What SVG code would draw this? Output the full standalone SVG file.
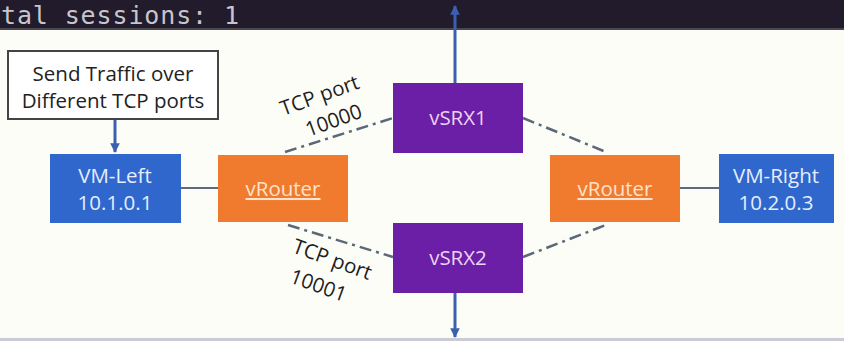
<svg xmlns="http://www.w3.org/2000/svg" width="844" height="341" viewBox="0 0 844 341">
<defs>
<marker id="ah" viewBox="0 0 10 10" refX="9" refY="5" markerWidth="3.2" markerHeight="3.2" orient="auto-start-reverse"><path d="M0,0 L10,5 L0,10 z" fill="#3d5fb0"/></marker>
<style>
.t{font-family:"Open Sans","Liberation Sans",sans-serif;font-size:20.5px;text-anchor:middle}
.blue{fill:#2f67cc}
.org{fill:#f07a2e}
.pur{fill:#6a1fa6}
.ln{stroke:#3d5fb0;stroke-width:3;fill:none}
.dd{stroke:#5a6878;stroke-width:2.5;fill:none;stroke-dasharray:12 5 3 5}
.sl{stroke:#5c6a7e;stroke-width:2;fill:none}
</style>
</defs>
<rect x="0" y="0" width="844" height="341" fill="#fdfdf7"/>
<rect x="0" y="0" width="844" height="29" fill="#221b2b"/>
<rect x="0" y="28" width="844" height="2" fill="#4a4650"/>
<rect x="0" y="338" width="844" height="3" fill="#c9ccd4"/>
<text x="1" y="24" font-family="DejaVu Sans Mono,Liberation Mono,monospace" font-size="25" textLength="238" fill="#c8c6cc">tal sessions: 1</text>
<g id="connectors">
<line class="ln" x1="455" y1="83" x2="455" y2="6" marker-end="url(#ah)"/>
<line class="ln" x1="455" y1="293" x2="455" y2="337" marker-end="url(#ah)"/>
<line class="ln" x1="115" y1="119" x2="115" y2="152" marker-end="url(#ah)"/>
<line class="sl" x1="181" y1="188" x2="218" y2="188"/>
<line class="sl" x1="680" y1="188" x2="719" y2="188"/>
<line class="dd" x1="285" y1="152" x2="393" y2="118"/>
<line class="dd" x1="523" y1="118" x2="606" y2="152"/>
<line class="dd" x1="288" y1="225" x2="393" y2="257"/>
<line class="dd" x1="523" y1="257" x2="606" y2="225"/>
</g>
<g id="note">
<rect x="8" y="51" width="210" height="68" fill="#ffffff" stroke="#444" stroke-width="2"/>
<text class="t" x="113" y="81" fill="#222">Send Traffic over</text>
<text class="t" x="113" y="108" fill="#222">Different TCP ports</text>
</g>
<g id="vm-left">
<rect class="blue" x="50" y="154" width="131" height="69"/>
<text class="t" x="115" y="183" fill="#e4eeff">VM-Left</text>
<text class="t" x="115" y="210" fill="#e4eeff">10.1.0.1</text>
</g>
<g id="vrouter-left">
<rect class="org" x="218" y="155" width="130" height="67"/>
<text class="t" x="283" y="196" fill="#fde3cc" text-decoration="underline">vRouter</text>
</g>
<g id="vsrx1">
<rect class="pur" x="393" y="83" width="130" height="70"/>
<text class="t" x="458" y="125" fill="#ecd2f4">vSRX1</text>
</g>
<g id="vsrx2">
<rect class="pur" x="393" y="223" width="130" height="70"/>
<text class="t" x="458" y="265" fill="#ecd2f4">vSRX2</text>
</g>
<g id="vrouter-right">
<rect class="org" x="550" y="155" width="130" height="67"/>
<text class="t" x="615" y="196" fill="#fde3cc" text-decoration="underline">vRouter</text>
</g>
<g id="vm-right">
<rect class="blue" x="719" y="154" width="115" height="69"/>
<text class="t" x="776" y="183" fill="#e4eeff">VM-Right</text>
<text class="t" x="776" y="210" fill="#e4eeff">10.2.0.3</text>
</g>
<g id="labels" fill="#1e1e1e">
<text class="t" transform="translate(322,102) rotate(-20)">TCP port</text>
<text class="t" transform="translate(336,127) rotate(-20)">10000</text>
<text class="t" transform="translate(330,266) rotate(20)">TCP port</text>
<text class="t" transform="translate(316,292) rotate(20)">10001</text>
</g>
</svg>
